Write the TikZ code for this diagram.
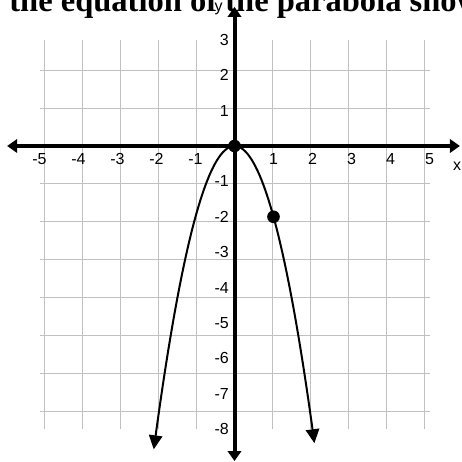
\documentclass[tikz,border=0pt]{standalone}
\usepackage{fontspec}
\setmainfont{Liberation Sans}
\newfontfamily\titlefont{Liberation Serif}
\usetikzlibrary{arrows.meta}
\definecolor{gridgray}{RGB}{192,192,192}

\begin{document}
\begin{tikzpicture}[x=29.25pt, y=26.55pt,
    axisarrow/.style={line width=3pt, arrows={Triangle[length=7.5pt,width=10pt]-Triangle[length=7.5pt,width=10pt]}},
    curvearrow/.style={line width=1.5pt, arrows={Triangle[length=10.5pt,width=10pt]-Triangle[length=10.5pt,width=10pt]}},
    gridline/.style={gridgray, line width=0.8pt},
    ticklabel/.style={font=\fontsize{12}{14}\selectfont, inner sep=0pt},
    dot/.style={circle, fill=black, inner sep=0pt, minimum size=9.5pt}]
    \clip (-6.013,-8.927) rectangle (5.808,4.124);

    \node[anchor=base west, inner sep=0pt, font=\titlefont\bfseries\fontsize{24.4}{28}\selectfont] (title) at (-5.78,3.785) {the equation of the parabola show};

    \draw[gridline] (-5,-8) grid (5,3);

    \coordinate (xleft) at (-5.83,0);
    \coordinate (xright) at (5.78,0);
    \coordinate (ybottom) at (0,-8.9);
    \coordinate (ytop) at (0,3.93);
    \draw[axisarrow] (xleft) -- (xright);
    \draw[axisarrow] (ybottom) -- (ytop);
    \node[ticklabel] (xlab) at (5.71,-0.58) {x};
    \node[ticklabel] (ylab) at (-0.41,3.87) {y};

    \foreach \n in {-5,-4,-3,-2,-1,1,2,3,4,5} {
        \node[ticklabel, anchor=north] (xt\n) at (\n,-0.2) {\n};
    }
    \foreach \n in {-8,-7,-6,-5,-4,-3,-2,-1,1,2,3} {
        \node[ticklabel, anchor=east] (yt\n) at (-0.14,\n) {\n};
    }

    \draw[curvearrow] plot[domain=-2.07:2.05, samples=80, smooth] (\x,{-2*\x*\x});

    \node[dot] (vertex) at (0,0) {};
    \node[dot] (point) at (1,-2) {};
\end{tikzpicture}
\end{document}
